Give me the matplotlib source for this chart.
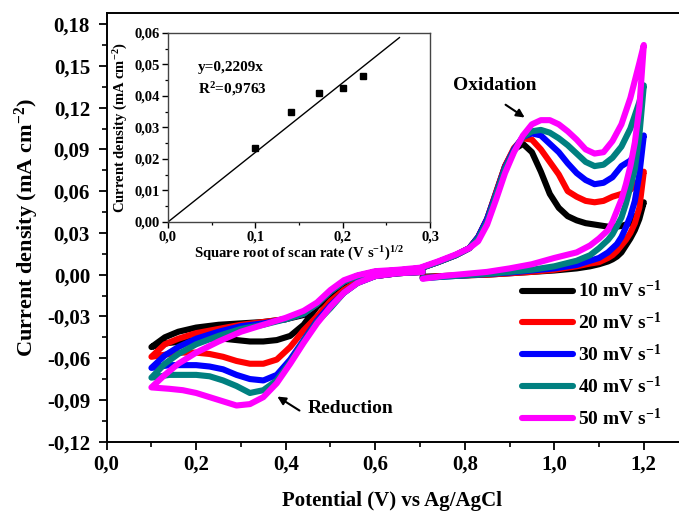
import matplotlib
matplotlib.use("Agg")
import matplotlib.pyplot as plt
from matplotlib.ticker import MultipleLocator, FuncFormatter
import numpy as np

plt.rcParams['font.family'] = ['Liberation Serif', 'DejaVu Serif']
plt.rcParams['font.weight'] = 'bold'
plt.rcParams['axes.labelweight'] = 'bold'
plt.rcParams['axes.unicode_minus'] = False
plt.rcParams['mathtext.fontset'] = 'custom'
plt.rcParams['mathtext.rm'] = 'Liberation Serif:bold'
plt.rcParams['mathtext.bf'] = 'Liberation Serif:bold'
plt.rcParams['mathtext.it'] = 'Liberation Serif:bold'
plt.rcParams['mathtext.default'] = 'rm'

# ---------------- data ----------------
scan_labels = ["10 mV s$^{-1}$", "20 mV s$^{-1}$", "30 mV s$^{-1}$", "40 mV s$^{-1}$", "50 mV s$^{-1}$"]
colors = ["#000000", "#ff0000", "#0000ff", "#008080", "#ff00ff"]

# cathodic sweep 0.706 V -> 0.10 V
E_cath = [0.706, 0.65, 0.60, 0.56, 0.53, 0.50, 0.47, 0.44, 0.41, 0.38, 0.35, 0.32, 0.29, 0.26, 0.23, 0.20, 0.17, 0.14, 0.12, 0.10]
j_cath_10 = [0.002, 0.001, -0.001, -0.004, -0.009, -0.015, -0.023, -0.036, -0.044, -0.047, -0.048, -0.048, -0.047, -0.046, -0.046, -0.047, -0.048, -0.049, -0.050, -0.052]
j_cath_20 = [0.002, 0.001, -0.001, -0.005, -0.011, -0.019, -0.030, -0.040, -0.052, -0.061, -0.064, -0.064, -0.062, -0.059, -0.057, -0.056, -0.056, -0.057, -0.058, -0.059]
j_cath_30 = [0.002, 0.001, -0.001, -0.006, -0.013, -0.022, -0.033, -0.047, -0.061, -0.072, -0.076, -0.075, -0.072, -0.068, -0.066, -0.065, -0.065, -0.065, -0.066, -0.067]
j_cath_40 = [0.002, 0.001, -0.001, -0.006, -0.013, -0.024, -0.034, -0.048, -0.063, -0.076, -0.083, -0.085, -0.080, -0.076, -0.073, -0.072, -0.072, -0.072, -0.073, -0.074]
j_cath_50 = [0.002, 0.001, -0.001, -0.006, -0.013, -0.023, -0.035, -0.049, -0.064, -0.078, -0.088, -0.093, -0.094, -0.091, -0.088, -0.085, -0.083, -0.082, -0.0815, -0.081]

# anodic sweep 0.10 V -> 1.20 V
E_anod = [0.10, 0.13, 0.16, 0.20, 0.25, 0.30, 0.35, 0.40, 0.44, 0.47, 0.50, 0.53, 0.56, 0.60, 0.65, 0.70, 0.74, 0.78, 0.81, 0.83,
          0.85, 0.87, 0.89, 0.91, 0.93, 0.95, 0.97, 0.99, 1.01, 1.03, 1.05, 1.07, 1.09, 1.11, 1.13, 1.15, 1.17, 1.19, 1.20]
j_anod_10 = [-0.052, -0.045, -0.041, -0.038, -0.036, -0.035, -0.034, -0.032, -0.029, -0.021, -0.012, -0.005, -0.001, 0.002, 0.003, 0.0045, 0.009, 0.014, 0.019, 0.027,
             0.040, 0.059, 0.078, 0.090, 0.094, 0.088, 0.074, 0.058, 0.048, 0.042, 0.039, 0.037, 0.036, 0.035, 0.034, 0.035, 0.037, 0.045, 0.052]
j_anod_20 = [-0.059, -0.050, -0.046, -0.042, -0.039, -0.036, -0.034, -0.032, -0.028, -0.021, -0.012, -0.005, -0.001, 0.002, 0.003, 0.0045, 0.009, 0.014, 0.019, 0.027,
             0.040, 0.059, 0.078, 0.091, 0.098, 0.097, 0.090, 0.081, 0.072, 0.060, 0.056, 0.053, 0.052, 0.053, 0.056, 0.058, 0.061, 0.068, 0.074]
j_anod_30 = [-0.067, -0.058, -0.052, -0.046, -0.041, -0.037, -0.035, -0.032, -0.028, -0.021, -0.012, -0.005, -0.001, 0.002, 0.003, 0.0045, 0.009, 0.014, 0.019, 0.027,
             0.040, 0.058, 0.077, 0.090, 0.099, 0.1015, 0.100, 0.094, 0.088, 0.080, 0.073, 0.068, 0.065, 0.066, 0.070, 0.078, 0.082, 0.092, 0.100]
j_anod_40 = [-0.074, -0.064, -0.057, -0.050, -0.044, -0.039, -0.036, -0.032, -0.028, -0.021, -0.012, -0.005, -0.001, 0.002, 0.003, 0.0045, 0.009, 0.014, 0.019, 0.026,
             0.038, 0.057, 0.076, 0.089, 0.099, 0.103, 0.104, 0.102, 0.098, 0.093, 0.087, 0.081, 0.078, 0.079, 0.084, 0.092, 0.105, 0.124, 0.136]
j_anod_50 = [-0.081, -0.072, -0.064, -0.056, -0.048, -0.041, -0.036, -0.031, -0.026, -0.020, -0.011, -0.004, -0.0005, 0.0025, 0.0035, 0.005, 0.0095, 0.0145, 0.019, 0.024,
             0.036, 0.054, 0.073, 0.088, 0.100, 0.108, 0.111, 0.111, 0.108, 0.103, 0.097, 0.090, 0.087, 0.088, 0.096, 0.108, 0.127, 0.152, 0.165]

# return (cathodic) sweep 1.20 V -> 0.706 V
E_ret = [1.20, 1.19, 1.18, 1.17, 1.16, 1.15, 1.14, 1.13, 1.12, 1.10, 1.08, 1.05, 1.00, 0.95, 0.90, 0.85, 0.80, 0.75, 0.706]
j_ret_10 = [0.052, 0.040, 0.032, 0.026, 0.021, 0.016, 0.013, 0.011, 0.0095, 0.0075, 0.006, 0.0045, 0.003, 0.002, 0.001, 0.0, -0.0005, -0.001, -0.0015]
j_ret_20 = [0.074, 0.048, 0.037, 0.030, 0.025, 0.021, 0.017, 0.014, 0.012, 0.009, 0.008, 0.006, 0.0035, 0.002, 0.001, 0.0, -0.0005, -0.001, -0.002]
j_ret_30 = [0.100, 0.072, 0.053, 0.042, 0.034, 0.027, 0.022, 0.019, 0.016, 0.012, 0.010, 0.007, 0.0045, 0.003, 0.0015, 0.0005, -0.0005, -0.0015, -0.0025]
j_ret_40 = [0.136, 0.100, 0.076, 0.063, 0.051, 0.041, 0.035, 0.029, 0.025, 0.019, 0.014, 0.010, 0.006, 0.0035, 0.002, 0.0005, -0.0005, -0.0015, -0.0025]
j_ret_50 = [0.165, 0.120, 0.095, 0.078, 0.065, 0.054, 0.046, 0.038, 0.032, 0.026, 0.021, 0.016, 0.012, 0.0075, 0.0045, 0.002, 0.0005, -0.001, -0.003]

# inset: peak current vs sqrt(scan rate)
sqrt_rate = [0.1, 0.1414, 0.1732, 0.2, 0.2236]
peak_j = [0.0235, 0.0350, 0.0410, 0.0426, 0.0463]
fit_slope = 0.2209
fit_x = [0.0, 0.265]

main_xticks = [0.0, 0.2, 0.4, 0.6, 0.8, 1.0, 1.2]

# ---------------- figure ----------------
fig = plt.figure(figsize=(6.79, 5.13), dpi=100)
ax = fig.add_axes([0.1571, 0.139, 0.857, 0.8357])

cath = [j_cath_10, j_cath_20, j_cath_30, j_cath_40, j_cath_50]
anod = [j_anod_10, j_anod_20, j_anod_30, j_anod_40, j_anod_50]
ret = [j_ret_10, j_ret_20, j_ret_30, j_ret_40, j_ret_50]
for jc, ja, jr, c, lab in zip(cath, anod, ret, colors, scan_labels):
    E = list(E_cath) + list(E_anod) + list(E_ret)
    J = list(jc) + list(ja) + list(jr)
    ax.plot(E, J, color=c, lw=4.4, solid_capstyle='round', solid_joinstyle='round', label=lab)

ax.set_xlim(0.0, 1.3)
ax.set_ylim(-0.12, 0.188)
ax.set_xticks(main_xticks)
ax.xaxis.set_minor_locator(MultipleLocator(0.1))
ax.yaxis.set_major_locator(MultipleLocator(0.03))
ax.yaxis.set_minor_locator(MultipleLocator(0.015))

def fmt1(v, pos):
    return ("%.1f" % v).replace('.', ',')
def fmt2(v, pos):
    s = ("%.2f" % v).replace('.', ',')
    if s == "-0,00":
        s = "0,00"
    return s
ax.xaxis.set_major_formatter(FuncFormatter(fmt1))
ax.yaxis.set_major_formatter(FuncFormatter(fmt2))
ax.tick_params(which='major', direction='out', length=6, width=1.3, labelsize=15)
ax.tick_params(axis='y', which='major', pad=6)
ax.tick_params(which='minor', direction='out', length=3.5, width=1.2)
for s in ax.spines.values():
    s.set_linewidth(1.4)

ax.set_xlabel("Potential (V) vs Ag/AgCl", fontsize=15, fontweight='bold')
ax.set_ylabel("Current density (mA cm$^{-2}$)", fontsize=16, fontweight='bold')
ax.yaxis.set_label_coords(-0.113, 0.5)
ax.xaxis.set_label_coords(0.49, -0.115)

leg = ax.legend(loc='upper left', bbox_to_anchor=(0.701, 0.395), frameon=False, fontsize=14,
                handlelength=2.6, handletextpad=0.25, labelspacing=0.55, borderaxespad=0)

ax.annotate("", xy=(0.939, 0.1118), xytext=(0.886, 0.1232),
            arrowprops=dict(arrowstyle='-|>', color='black', lw=1.5, mutation_scale=12))
ax.text(0.868, 0.136, "Oxidation", fontsize=14, fontweight='bold', ha='center', va='center')
ax.annotate("", xy=(0.376, -0.0865), xytext=(0.436, -0.0987),
            arrowprops=dict(arrowstyle='-|>', color='black', lw=1.5, mutation_scale=12))
ax.text(0.45, -0.0958, "Reduction", fontsize=14, fontweight='bold', ha='left', va='center')

# inset
ins = fig.add_axes([0.2474, 0.5673, 0.3859, 0.3684])
ins.plot(fit_x, [fit_slope * v for v in fit_x], color='black', lw=1.0)
ins.plot(sqrt_rate, peak_j, 's', color='black', markersize=4)
ins.set_xlim(0.0, 0.3)
ins.set_ylim(0.0, 0.06)
ins.xaxis.set_major_locator(MultipleLocator(0.1))
ins.xaxis.set_minor_locator(MultipleLocator(0.05))
ins.yaxis.set_major_locator(MultipleLocator(0.01))
ins.yaxis.set_minor_locator(MultipleLocator(0.005))
ins.xaxis.set_major_formatter(FuncFormatter(fmt1))
ins.yaxis.set_major_formatter(FuncFormatter(fmt2))
ins.tick_params(which='major', direction='out', length=4, width=1.0, labelsize=10.5, pad=2)
ins.tick_params(which='minor', direction='out', length=2.5, width=0.9)
for s in ins.spines.values():
    s.set_linewidth(1.0)
    s.set_color('#444444')
ins.set_xlabel("Square root of scan rate (V s$^{-1}$)$^{1/2}$", fontsize=10.5, fontweight='bold', labelpad=1)
ins.set_ylabel("Current density (mA cm$^{-2}$)", fontsize=10.5, fontweight='bold', labelpad=3)
ins.text(0.034, 0.0492, "y=0,2209x", fontsize=11, fontweight='bold', ha='left', va='center')
ins.text(0.034, 0.0422, "R$^{2}$=0,9763", fontsize=11, fontweight='bold', ha='left', va='center')

fig.savefig("out.png", dpi=100)
